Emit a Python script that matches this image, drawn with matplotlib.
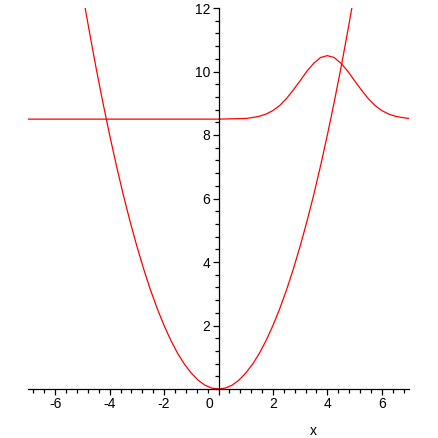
import numpy as np
import matplotlib.pyplot as plt
from matplotlib.ticker import MultipleLocator, FixedLocator
from matplotlib.transforms import ScaledTranslation

plt.rcParams['font.family'] = ['Liberation Sans', 'DejaVu Sans']
plt.rcParams['axes.unicode_minus'] = False

# parabola, values
parab_x = [-4.9, -4.75, -4.5, -4.25, -4.0, -3.75, -3.5, -3.25, -3.0, -2.75, -2.5,
           -2.25, -2.0, -1.75, -1.5, -1.25, -1.0, -0.75, -0.5, -0.25, 0.0,
           0.25, 0.5, 0.75, 1.0, 1.25, 1.5, 1.75, 2.0, 2.25, 2.5,
           2.75, 3.0, 3.25, 3.5, 3.75, 4.0, 4.25, 4.5, 4.75, 4.9]
parab_y = [12.0, 11.28, 10.12, 9.03, 8.0, 7.03, 6.12, 5.28, 4.5, 3.78, 3.12,
           2.53, 2.0, 1.53, 1.12, 0.78, 0.5, 0.28, 0.12, 0.03, 0.0,
           0.03, 0.12, 0.28, 0.5, 0.78, 1.12, 1.53, 2.0, 2.53, 3.12,
           3.78, 4.5, 5.28, 6.12, 7.03, 8.0, 9.03, 10.12, 11.28, 12.0]

# curve with the bump near x=4
bump_x = [-7.0, 0.0, 1.0, 1.25, 1.5, 1.75, 2.0, 2.25, 2.5, 2.75, 3.0, 3.25, 3.5,
          3.75, 4.0, 4.25, 4.5, 4.75, 5.0, 5.25, 5.5, 5.75, 6.0, 6.25, 6.5,
          6.75, 7.0]
bump_y = [8.5, 8.5, 8.52, 8.55, 8.59, 8.66, 8.77, 8.93, 9.15, 9.42, 9.71, 10.01, 10.26,
          10.44, 10.5, 10.44, 10.26, 10.01, 9.71, 9.42, 9.15, 8.93, 8.77, 8.66, 8.59,
          8.55, 8.52]

xticks = [-6, -4, -2, 0, 2, 4, 6]
yticks = [2, 4, 6, 8, 10, 12]

fig = plt.figure(figsize=(4.38, 4.38), dpi=100)
ax = fig.add_axes([28 / 438, 49 / 438, 381 / 438, 381 / 438])

ax.plot(parab_x, parab_y, color='red', lw=0.9, zorder=1)
ax.plot(bump_x, bump_y, color='red', lw=0.9, zorder=1)

ax.set_xlim(-7, 7)
ax.set_ylim(0, 12)

# axes through the origin, maple style
for s in ['top', 'right']:
    ax.spines[s].set_visible(False)
for s in ['left', 'bottom']:
    ax.spines[s].set_position(('data', 0))
    ax.spines[s].set_zorder(3)
    ax.spines[s].set_linewidth(0.9)

ax.xaxis.set_major_locator(FixedLocator(xticks))
ax.yaxis.set_major_locator(FixedLocator(yticks))
ax.xaxis.set_minor_locator(MultipleLocator(0.4))
ax.yaxis.set_minor_locator(MultipleLocator(0.4))
ax.tick_params(which='major', direction='out', length=4, width=0.9, labelsize=10, pad=2)
ax.tick_params(which='minor', direction='out', length=3, width=0.9)
ax.set_xticklabels([str(t) for t in xticks])
ax.set_yticklabels([str(t) for t in yticks])

# "0" sits left of the vertical axis
for lab in ax.get_xticklabels():
    if lab.get_text() == '0':
        lab.set_transform(lab.get_transform() + ScaledTranslation(-9 / 100, 0, fig.dpi_scale_trans))

ax.set_xlabel('x', fontsize=10)
ax.xaxis.set_label_coords(0.748, -0.11)
ax.xaxis.label.set_va('center')

fig.savefig('out.png', dpi=100)
